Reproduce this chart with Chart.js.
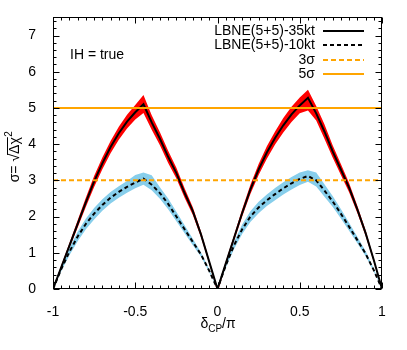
<!DOCTYPE html>
<html>
<head>
<meta charset="utf-8">
<script src="https://cdn.jsdelivr.net/npm/chart.js@4/dist/chart.umd.min.js"></script>
<style>
  html, body { margin: 0; padding: 0; background: #fff; }
  #wrap { width: 407px; height: 350px; }
</style>
</head>
<body>
<div id="wrap"><canvas id="c" width="407" height="350"></canvas></div>
<script>
// ---- data ----
const deltaCP = [-1,-0.95,-0.9,-0.85,-0.8,-0.75,-0.7,-0.65,-0.6,-0.55,-0.5,-0.45,-0.4,-0.35,-0.3,-0.25,-0.2,-0.15,-0.1,-0.05,0,
                 0.05,0.1,0.15,0.2,0.25,0.3,0.35,0.4,0.45,0.5,0.55,0.6,0.65,0.7,0.75,0.8,0.85,0.9,0.95,1];

const sigma35 = [0,0.6,1.2,1.8,2.4,2.97,3.47,3.92,4.3,4.62,4.88,5.1,4.6,4.15,3.65,3.2,2.65,2.15,1.5,0.75,0,
                 0.7,1.4,2.1,2.75,3.3,3.77,4.17,4.52,4.82,5.07,5.28,4.85,4.35,3.8,3.3,2.8,2.2,1.55,0.8,0];
const band35Upper = [0,0.65,1.27,1.9,2.53,3.12,3.63,4.09,4.48,4.81,5.08,5.36,4.8,4.33,3.82,3.35,2.78,2.26,1.58,0.8,0.02,
                     0.75,1.48,2.2,2.88,3.45,3.94,4.35,4.72,5.03,5.29,5.5,5.05,4.55,3.97,3.45,2.93,2.3,1.63,0.85,0];
const band35Lower = [0,0.55,1.13,1.7,2.27,2.82,3.31,3.75,4.12,4.43,4.68,4.86,4.4,3.97,3.48,3.05,2.52,2.04,1.42,0.7,-0.1,
                     0.65,1.32,2.0,2.62,3.15,3.6,3.99,4.32,4.61,4.85,4.93,4.65,4.15,3.63,3.15,2.67,2.1,1.47,0.75,0];

const sigma10 = [0,0.55,1.03,1.45,1.8,2.08,2.32,2.52,2.68,2.82,2.94,3.05,2.88,2.65,2.35,2.0,1.65,1.3,0.95,0.5,0,
                 0.65,1.2,1.65,2.0,2.25,2.45,2.62,2.78,2.92,3.04,3.12,3.0,2.72,2.42,2.08,1.72,1.35,0.98,0.52,0];
const band10Upper = [0,0.61,1.13,1.58,1.95,2.24,2.48,2.68,2.84,2.98,3.15,3.22,3.14,2.81,2.5,2.13,1.76,1.39,1.01,0.54,0,
                     0.71,1.3,1.78,2.15,2.41,2.61,2.79,2.95,3.09,3.22,3.28,3.22,2.89,2.57,2.21,1.83,1.44,1.05,0.56,0];
const band10Lower = [0,0.49,0.93,1.32,1.65,1.92,2.16,2.36,2.52,2.66,2.78,2.88,2.73,2.49,2.2,1.87,1.54,1.21,0.89,0.46,0,
                     0.59,1.1,1.52,1.85,2.09,2.29,2.45,2.61,2.75,2.87,2.96,2.83,2.55,2.27,1.95,1.61,1.26,0.91,0.48,0];

const threeSigma = 3;
const fiveSigma = 5;
const xRange = [-1, 1];
const yRange = [0, 7.5];
const xTickLabels = ['-1', '-0.5', '0', '0.5', '1'];
const yTickLabels = ['0','1','2','3','4','5','6','7'];
const legendLabels = ['LBNE(5+5)-35kt', 'LBNE(5+5)-10kt', '3σ', '5σ'];
const annotationText = 'IH = true';

// ---- build ----
const pts = arr => arr.map((v, i) => ({ x: deltaCP[i], y: v }));
const hline = v => [{ x: xRange[0], y: v }, { x: xRange[1], y: v }];

const FONT = '"Liberation Sans", Arial, Helvetica, sans-serif';
const RED = '#ff0000', BLUE = '#87ceeb', ORANGE = '#ffa500';

const legendStyles = [
  { color: '#000', dash: [] },
  { color: '#000', dash: [4, 3] },
  { color: ORANGE, dash: [5, 3] },
  { color: ORANGE, dash: [] }
];

const decor = {
  id: 'decor',
  afterDatasetsDraw(chart) {
    const { ctx, chartArea: ca, scales: { x, y } } = chart;
    ctx.save();
    ctx.strokeStyle = '#000';
    ctx.lineWidth = 1;
    const L = Math.round(ca.left) + 0.5, R = Math.round(ca.right) - 0.5;
    const T = Math.round(ca.top) + 0.5, B = Math.round(ca.bottom) - 0.5;
    ctx.beginPath();
    for (let i = -20; i <= 20; i++) {
      const v = i * 0.05;
      const px = Math.round(x.getPixelForValue(v)) + 0.5;
      const len = (i % 10 === 0) ? 6 : 3;
      ctx.moveTo(px, B); ctx.lineTo(px, B - len);
      ctx.moveTo(px, T); ctx.lineTo(px, T + len);
    }
    for (let j = 0; j <= 37; j++) {
      const v = j * 0.2;
      if (v > yRange[1]) break;
      const py = Math.round(y.getPixelForValue(v)) + 0.5;
      const len = (j % 5 === 0) ? 6 : 3;
      ctx.moveTo(L, py); ctx.lineTo(L + len, py);
      ctx.moveTo(R, py); ctx.lineTo(R - len, py);
    }
    ctx.stroke();
    ctx.strokeRect(L, T, R - L, B - T);

    ctx.fillStyle = '#000';
    ctx.font = '14px ' + FONT;
    ctx.textBaseline = 'alphabetic';
    ctx.textAlign = 'left';
    ctx.fillText(annotationText, 70, 58.5);

    const rows = [31, 45, 60, 74];
    legendLabels.forEach((lab, k) => {
      ctx.textAlign = 'right';
      ctx.textBaseline = 'middle';
      ctx.fillStyle = '#000';
      ctx.font = '14px ' + FONT;
      ctx.fillText(lab, 315, rows[k] + 0.5);
      ctx.beginPath();
      ctx.strokeStyle = legendStyles[k].color;
      ctx.lineWidth = 2;
      ctx.setLineDash(legendStyles[k].dash);
      ctx.moveTo(323, rows[k]); ctx.lineTo(364, rows[k]);
      ctx.stroke();
      ctx.setLineDash([]);
    });

    ctx.fillStyle = '#000';
    ctx.textAlign = 'left';
    ctx.textBaseline = 'alphabetic';
    ctx.font = '14px ' + FONT;
    const wD = ctx.measureText('δ').width;
    const wS = ctx.measureText('/π').width;
    ctx.font = '10px ' + FONT;
    const wC = ctx.measureText('CP').width;
    let sx = 218 - (wD + wC + wS) / 2;
    ctx.font = '14px ' + FONT;
    ctx.fillText('δ', sx, 328);
    ctx.font = '10px ' + FONT;
    ctx.fillText('CP', sx + wD, 332);
    ctx.font = '14px ' + FONT;
    ctx.fillText('/π', sx + wD + wC, 328);

    ctx.save();
    ctx.translate(19, 157);
    ctx.rotate(-Math.PI / 2);
    ctx.font = '14px ' + FONT;
    const a = 'σ= ', r = '√', d = 'Δχ';
    const wa = ctx.measureText(a).width, wr = ctx.measureText(r).width, wd = ctx.measureText(d).width;
    ctx.font = '10px ' + FONT;
    const w2 = ctx.measureText('2').width;
    let tx = -(wa + wr + wd + w2) / 2;
    ctx.font = '14px ' + FONT;
    ctx.fillText(a, tx, 0);
    ctx.fillText(r, tx + wa, 0);
    ctx.fillText(d, tx + wa + wr, 0);
    ctx.beginPath();
    ctx.strokeStyle = '#000';
    ctx.lineWidth = 1;
    ctx.moveTo(tx + wa + wr - 1, -11.5);
    ctx.lineTo(tx + wa + wr + wd, -11.5);
    ctx.stroke();
    ctx.font = '10px ' + FONT;
    ctx.fillText('2', tx + wa + wr + wd + 0.5, -7);
    ctx.restore();

    ctx.restore();
  }
};

new Chart(document.getElementById('c'), {
  type: 'line',
  data: {
    datasets: [
      { data: pts(band35Upper), borderWidth: 0, pointRadius: 0, backgroundColor: RED, borderColor: RED, fill: '+1', order: 10 },
      { data: pts(band35Lower), borderWidth: 0, pointRadius: 0, backgroundColor: RED, borderColor: RED, fill: false, order: 10 },
      { data: pts(band10Upper), borderWidth: 0, pointRadius: 0, backgroundColor: BLUE, borderColor: BLUE, fill: '+1', order: 9 },
      { data: pts(band10Lower), borderWidth: 0, pointRadius: 0, backgroundColor: BLUE, borderColor: BLUE, fill: false, order: 9 },
      { label: legendLabels[0], data: pts(sigma35), borderColor: '#000', borderWidth: 2, pointRadius: 0, fill: false, order: 4 },
      { label: legendLabels[1], data: pts(sigma10), borderColor: '#000', borderWidth: 2, borderDash: [4, 3], pointRadius: 0, fill: false, order: 3 },
      { label: legendLabels[2], data: hline(threeSigma), borderColor: ORANGE, borderWidth: 2, borderDash: [5, 3], pointRadius: 0, fill: false, order: 2 },
      { label: legendLabels[3], data: hline(fiveSigma), borderColor: ORANGE, borderWidth: 2, pointRadius: 0, fill: false, order: 1 }
    ]
  },
  options: {
    responsive: false,
    animation: false,
    events: [],
    layout: { padding: { left: 0, right: 25, top: 16, bottom: 0 } },
    elements: { line: { tension: 0 } },
    plugins: { legend: { display: false }, tooltip: { enabled: false }, title: { display: false } },
    scales: {
      x: {
        type: 'linear', min: xRange[0], max: xRange[1],
        grid: { display: false }, border: { display: false },
        ticks: {
          stepSize: 0.5, includeBounds: false, padding: 7, color: '#000', maxRotation: 0,
          font: { family: FONT, size: 14 },
          callback: v => { const i = Math.round((v - xRange[0]) / 0.5); return (Math.abs(v - (xRange[0] + i * 0.5)) < 1e-9 && xTickLabels[i] !== undefined) ? xTickLabels[i] : ''; }
        },
        afterFit: s => { s.height = 61; }
      },
      y: {
        type: 'linear', min: yRange[0], max: yRange[1],
        grid: { display: false }, border: { display: false },
        ticks: {
          stepSize: 1, includeBounds: false, padding: 9, color: '#000',
          font: { family: FONT, size: 14 },
          callback: v => (Number.isInteger(v) && yTickLabels[v] !== undefined) ? yTickLabels[v] : ''
        },
        afterFit: s => { s.width = 53; }
      }
    }
  },
  plugins: [decor]
});
</script>
</body>
</html>
